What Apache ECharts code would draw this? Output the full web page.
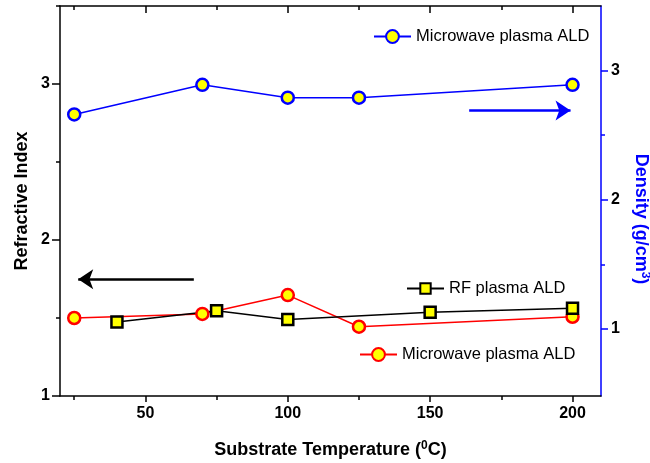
<!DOCTYPE html>
<html>
<head>
<meta charset="utf-8">
<script src="https://cdn.jsdelivr.net/npm/echarts@6/dist/echarts.min.js"></script>
<style>html,body{margin:0;padding:0;background:#fff}#chart{width:650px;height:463px}</style>
</head>
<body>
<div id="chart"></div>
<script>
'use strict';

// RF plasma ALD: refractive index
const rfTemps = [40, 75, 100, 150, 200];
const rfIndex = [1.474, 1.547, 1.49, 1.537, 1.562];
// Microwave plasma ALD: refractive index (left) and density (right)
const mwTemps = [25, 70, 100, 125, 200];
const mwIndex = [1.50, 1.526, 1.647, 1.444, 1.508];
const mwDensity = [2.66, 2.89, 2.79, 2.79, 2.89];

// tick positions
const xMajor = [50, 100, 150, 200];
const xMinor = [25, 75, 125, 175];
const yMajor = [1, 2, 3];
const leftMinor = [1.5, 2.5, 3.5];
const rightMinor = [1.5, 2.5];

// arrows pointing at the axis each group belongs to: [x0, x1, y]
const arrowIndex = [67, 26.4, 1.748];
const arrowDensity = [163.7, 199.3, 2.69];

const FONT = '"Liberation Sans", Arial, sans-serif';
const BLUE = '#0000ff', RED = '#ff0000', YELLOW = '#ffff00', BLACK = '#000000';

const X_MIN = 20, X_MAX = 210;

function xAxisDef(pos, ticks, len, inside, showLine, labels) {
  return {
    type: 'value', position: pos, min: X_MIN, max: X_MAX,
    axisLine: { show: showLine, onZero: false, lineStyle: { color: BLACK, width: 1.5 } },
    axisTick: { show: true, inside, length: len, customValues: ticks, lineStyle: { color: BLACK, width: 1.5 } },
    axisLabel: labels ? {
      show: true, customValues: labels, margin: 10,
      color: BLACK, fontFamily: FONT, fontWeight: 'bold', fontSize: 16
    } : { show: false },
    splitLine: { show: false }
  };
}

function yAxisDef(pos, min, max, color, ticks, len, showLine, labels) {
  return {
    type: 'value', position: pos, min, max,
    axisLine: { show: showLine, onZero: false, lineStyle: { color, width: 1.5 } },
    axisTick: { show: true, length: len, customValues: ticks, lineStyle: { color, width: 1.5 } },
    axisLabel: labels ? {
      show: true, customValues: labels, margin: 10,
      color: BLACK, fontFamily: FONT, fontWeight: 'bold', fontSize: 16
    } : { show: false },
    splitLine: { show: false }
  };
}

const supRich = { sup: { fontSize: 12, fontWeight: 'bold', fontFamily: FONT, lineHeight: 12, verticalAlign: 'top' } };

const bottomX = xAxisDef('bottom', xMajor, 6, false, true, xMajor);
bottomX.name = 'Substrate Temperature ({sup|0}C)';
bottomX.nameLocation = 'middle';
bottomX.nameGap = 44;
bottomX.nameMoveOverlap = false;
bottomX.nameTextStyle = { color: BLACK, fontFamily: FONT, fontWeight: 'bold', fontSize: 18, lineHeight: 21, rich: supRich };

const leftY = yAxisDef('left', 1, 3.5, BLACK, yMajor, 8, true, yMajor);
leftY.name = 'Refractive Index';
leftY.nameLocation = 'middle';
leftY.nameGap = 29;
leftY.nameMoveOverlap = false;
leftY.nameTextStyle = { color: BLACK, fontFamily: FONT, fontWeight: 'bold', fontSize: 18 };

const rightY = yAxisDef('right', 0.48, 3.5, BLUE, yMajor, 7, true, yMajor);
rightY.name = 'Density (g/cm{sup|3})';
rightY.nameLocation = 'middle';
rightY.nameRotate = -90;
rightY.nameGap = 29;
rightY.nameMoveOverlap = false;
rightY.nameTextStyle = {
  color: BLUE, fontFamily: FONT, fontWeight: 'bold', fontSize: 18, lineHeight: 21,
  padding: [0, 0, 0, 36],
  rich: { sup: Object.assign({}, supRich.sup, { color: BLUE }) }
};

function legendDef(name, left, top, symH) {
  return {
    data: [name], left, top, orient: 'horizontal', padding: 0,
    selectedMode: false, itemWidth: 37, itemHeight: symH, itemGap: 6,
    formatter: (n) => n.replace(/ \(.*\)$/, ''),
    textStyle: { color: BLACK, fontFamily: FONT, fontSize: 16.5 }
  };
}

function arrowLine(a, color) {
  return {
    silent: true, animation: false,
    symbol: ['none', 'arrow'], symbolSize: 15,
    label: { show: false },
    emphasis: { disabled: true },
    lineStyle: { color, width: 2.5, type: 'solid' },
    data: [[{ coord: [a[0], a[2]] }, { coord: [a[1], a[2]] }]]
  };
}

const chart = echarts.init(document.getElementById('chart'), null, { renderer: 'canvas' });
chart.setOption({
  animation: false,
  backgroundColor: '#ffffff',
  grid: { left: 60, right: 49, top: 6, bottom: 67, containLabel: false, outerBoundsMode: 'none' },
  legend: [
    legendDef('Microwave plasma ALD (density)', 373, 28, 16),
    legendDef('RF plasma ALD', 406, 280, 13),
    legendDef('Microwave plasma ALD (index)', 359, 346, 16)
  ],
  xAxis: [
    bottomX,
    xAxisDef('bottom', xMinor, 4, false, false, null),
    xAxisDef('top', xMajor, 7, true, true, null),
    xAxisDef('top', xMinor, 4, true, false, null)
  ],
  yAxis: [
    leftY,
    yAxisDef('left', 1, 3.5, BLACK, leftMinor, 4, false, null),
    rightY,
    yAxisDef('right', 0.48, 3.5, BLUE, rightMinor, 4, false, null)
  ],
  series: [
    {
      name: 'Microwave plasma ALD (index)', type: 'line', xAxisIndex: 0, yAxisIndex: 0,
      data: mwTemps.map((t, i) => [t, mwIndex[i]]),
      symbol: 'circle', symbolSize: 12,
      lineStyle: { color: RED, width: 1.5 },
      itemStyle: { color: YELLOW, borderColor: RED, borderWidth: 2.5 },
      emphasis: { disabled: true }
    },
    {
      name: 'RF plasma ALD', type: 'line', xAxisIndex: 0, yAxisIndex: 0,
      data: rfTemps.map((t, i) => [t, rfIndex[i]]),
      symbol: 'rect', symbolSize: 11,
      lineStyle: { color: BLACK, width: 1.5 },
      itemStyle: { color: YELLOW, borderColor: BLACK, borderWidth: 2.5 },
      emphasis: { disabled: true },
      markLine: arrowLine(arrowIndex, BLACK)
    },
    {
      name: 'Microwave plasma ALD (density)', type: 'line', xAxisIndex: 0, yAxisIndex: 2,
      data: mwTemps.map((t, i) => [t, mwDensity[i]]),
      symbol: 'circle', symbolSize: 12,
      lineStyle: { color: BLUE, width: 1.5 },
      itemStyle: { color: YELLOW, borderColor: BLUE, borderWidth: 2.5 },
      emphasis: { disabled: true },
      markLine: arrowLine(arrowDensity, BLUE)
    }
  ]
});
</script>
</body>
</html>
